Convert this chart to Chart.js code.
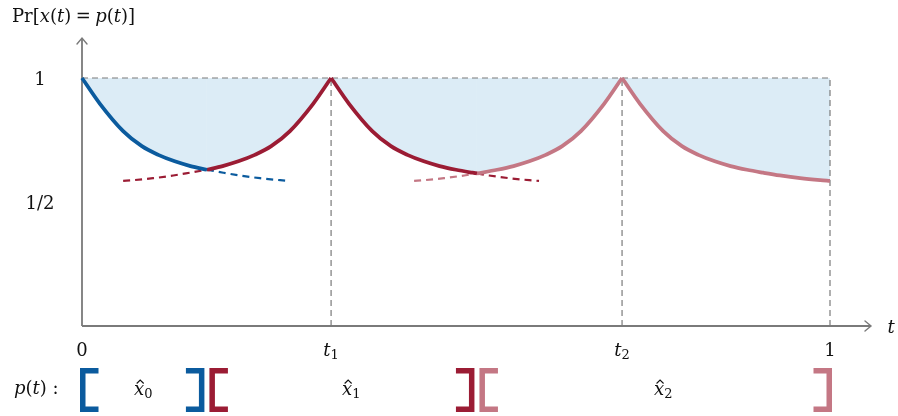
<!DOCTYPE html>
<html>
<head>
<meta charset="utf-8">
<script src="https://cdn.jsdelivr.net/npm/chart.js@4/dist/chart.umd.min.js"></script>
<style>
  html, body { margin: 0; padding: 0; background: #fff; }
  #wrap { width: 898px; height: 416px; }
</style>
</head>
<body>
<div id="wrap"><canvas id="prChart" width="898" height="416"></canvas></div>
<script>
// switch times and tick labels
const t1 = 0.333;
const t2 = 0.722;
const xTicks = [0, t1, t2, 1];
const xTickLabels = [["0"], ["t", "1"], ["t", "2"], ["1"]];
const yTicks = [1, 0.5];
const yTickLabels = ["1", "1/2"];

// estimate intervals shown under the axis, and where their names sit
const segStart = [0, 0.167, 0.528];
const segEnd = [0.167, 0.528, 1];
const segName = ["0", "1", "2"];
const segLabelAt = [0.082, 0.36, 0.777];

// probability curves, one piece per estimate
const blueSolidT = [0, 0.024, 0.055, 0.080, 0.102, 0.124, 0.145, 0.167];
const blueSolidY = [1, 0.896, 0.786, 0.725, 0.690, 0.664, 0.645, 0.630];
const blueDashT = [0.167, 0.189, 0.211, 0.238, 0.265, 0.278];
const blueDashY = [0.630, 0.618, 0.607, 0.596, 0.588, 0.585];

const redRiseDashT = [0.055, 0.068, 0.095, 0.122, 0.144, 0.167];
const redRiseDashY = [0.585, 0.588, 0.596, 0.607, 0.618, 0.630];
const redRiseT = [0.167, 0.188, 0.209, 0.231, 0.253, 0.278, 0.309, 0.333];
const redRiseY = [0.630, 0.645, 0.664, 0.690, 0.725, 0.786, 0.896, 1];
const redFallT = [0.333, 0.357, 0.388, 0.413, 0.435, 0.457, 0.478, 0.500, 0.522, 0.528];
const redFallY = [1, 0.896, 0.786, 0.725, 0.690, 0.664, 0.645, 0.630, 0.618, 0.615];
const redFallDashT = [0.528, 0.544, 0.571, 0.598, 0.611];
const redFallDashY = [0.615, 0.607, 0.596, 0.588, 0.585];

const pinkRiseDashT = [0.444, 0.457, 0.484, 0.511, 0.528];
const pinkRiseDashY = [0.585, 0.588, 0.596, 0.607, 0.615];
const pinkRiseT = [0.528, 0.555, 0.577, 0.598, 0.620, 0.642, 0.667, 0.698, 0.722];
const pinkRiseY = [0.615, 0.630, 0.645, 0.664, 0.690, 0.725, 0.786, 0.896, 1];
const pinkFallT = [0.722, 0.746, 0.777, 0.802, 0.824, 0.846, 0.867, 0.889, 0.911, 0.933, 0.960, 0.987, 1];
const pinkFallY = [1, 0.896, 0.786, 0.725, 0.690, 0.664, 0.645, 0.630, 0.618, 0.607, 0.596, 0.588, 0.585];

const BLUE = "#0b5b9e";
const RED = "#9b1c34";
const PINK = "#c47784";
const SHADE = "#dcecf6";
const GREY = "#7a7a7a";
const SERIF = '"DejaVu Serif", "Liberation Serif", serif';
const TEXT = 18;
const SUB = 13;
const segColor = [BLUE, RED, PINK];

function zip(ts, ys) {
  return ts.map((t, i) => ({ x: t, y: ys[i] }));
}

function solid(ts, ys, color) {
  return {
    data: zip(ts, ys),
    borderColor: color,
    borderWidth: 3.8,
    backgroundColor: SHADE,
    fill: { value: 1 },
    cubicInterpolationMode: "monotone",
    pointRadius: 0,
    clip: false,
  };
}

function dashed(ts, ys, color) {
  return {
    data: zip(ts, ys),
    borderColor: color,
    borderWidth: 2.2,
    borderDash: [7, 5],
    fill: false,
    cubicInterpolationMode: "monotone",
    pointRadius: 0,
    clip: false,
  };
}

function guide(ts, ys) {
  return {
    data: zip(ts, ys),
    borderColor: GREY,
    borderWidth: 1.2,
    borderDash: [6, 4],
    fill: false,
    pointRadius: 0,
    tension: 0,
    clip: false,
  };
}

function font(size, italic) {
  return (italic ? "italic " : "") + size + "px " + SERIF;
}

// draws a row of text pieces (upright, italic, subscript) as one label
function drawRuns(ctx, runs, x, y, align) {
  let w = 0;
  runs.forEach((r) => {
    ctx.font = font(r.size || TEXT, r.it);
    r.w = ctx.measureText(r.s).width + (r.gap || 0) * 2;
    w += r.w;
  });
  let cx = align === "center" ? x - w / 2 : align === "right" ? x - w : x;
  runs.forEach((r) => {
    ctx.font = font(r.size || TEXT, r.it);
    const tx = cx + (r.gap || 0);
    ctx.fillText(r.s, tx, y + (r.dy || 0));
    if (r.hat) {
      const mid = tx + r.w / 2 + 1;
      ctx.save();
      ctx.lineWidth = 1.1;
      ctx.beginPath();
      ctx.moveTo(mid - 3.5, y - 11.5);
      ctx.lineTo(mid, y - 15);
      ctx.lineTo(mid + 3.5, y - 11.5);
      ctx.stroke();
      ctx.restore();
    }
    cx += r.w;
  });
}

function bracket(ctx, left, right, top, bottom, open, color) {
  const lw = 5.5;
  const h = lw / 2;
  ctx.save();
  ctx.strokeStyle = color;
  ctx.lineWidth = lw;
  ctx.lineJoin = "miter";
  ctx.lineCap = "butt";
  ctx.beginPath();
  if (open) {
    ctx.moveTo(right, top + h);
    ctx.lineTo(left + h, top + h);
    ctx.lineTo(left + h, bottom - h);
    ctx.lineTo(right, bottom - h);
  } else {
    ctx.moveTo(left, top + h);
    ctx.lineTo(right - h, top + h);
    ctx.lineTo(right - h, bottom - h);
    ctx.lineTo(left, bottom - h);
  }
  ctx.stroke();
  ctx.restore();
}

const decorations = {
  id: "decorations",
  beforeDatasetsDraw(chart) {
    const ctx = chart.ctx;
    const xs = chart.scales.x;
    const ys = chart.scales.y;
    const x0 = xs.getPixelForValue(0);
    const y0 = ys.getPixelForValue(0);
    const top = chart.chartArea.top;
    const xEnd = 871;
    ctx.save();
    ctx.strokeStyle = GREY;
    ctx.lineWidth = 1.8;
    ctx.beginPath();
    ctx.moveTo(x0, y0);
    ctx.lineTo(x0, top);
    ctx.moveTo(x0, y0);
    ctx.lineTo(xEnd, y0);
    ctx.stroke();
    ctx.lineWidth = 1.4;
    ctx.lineCap = "round";
    ctx.beginPath();
    ctx.moveTo(x0 - 5, top + 6);
    ctx.lineTo(x0, top);
    ctx.lineTo(x0 + 5, top + 6);
    ctx.moveTo(xEnd - 6, y0 - 5);
    ctx.lineTo(xEnd, y0);
    ctx.lineTo(xEnd - 6, y0 + 5);
    ctx.stroke();
    ctx.restore();
  },
  afterDraw(chart) {
    const ctx = chart.ctx;
    const xs = chart.scales.x;
    const ys = chart.scales.y;
    ctx.save();
    ctx.fillStyle = "#111";
    ctx.strokeStyle = "#111";
    ctx.textBaseline = "alphabetic";

    drawRuns(ctx, [
      { s: "Pr" }, { s: "[" }, { s: "x", it: true }, { s: "(" }, { s: "t", it: true },
      { s: ")" }, { s: "=", gap: 4.5 }, { s: "p", it: true }, { s: "(" },
      { s: "t", it: true }, { s: ")" }, { s: "]" },
    ], 12, 22, "left");

    yTicks.forEach((v, i) => {
      drawRuns(ctx, [{ s: yTickLabels[i] }], 40, ys.getPixelForValue(v) + 7, "center");
    });

    xTicks.forEach((v, i) => {
      const lab = xTickLabels[i];
      const runs = lab.length === 1
        ? [{ s: lab[0] }]
        : [{ s: lab[0], it: true }, { s: lab[1], size: SUB, dy: 3 }];
      drawRuns(ctx, runs, xs.getPixelForValue(v), 356, "center");
    });

    drawRuns(ctx, [{ s: "t", it: true }], 891, 333, "center");

    drawRuns(ctx, [
      { s: "p", it: true }, { s: "(" }, { s: "t", it: true }, { s: ")" }, { s: " :" },
    ], 14, 394, "left");

    const bTop = 368;
    const bBot = 412;
    const bW = 18.5;
    segStart.forEach((a, i) => {
      const b = segEnd[i];
      const L = xs.getPixelForValue(a) + (a === 0 ? -2 : 2.5);
      const R = xs.getPixelForValue(b) + (b === 1 ? 2 : -2.5);
      bracket(ctx, L, L + bW, bTop, bBot, true, segColor[i]);
      bracket(ctx, R - bW, R, bTop, bBot, false, segColor[i]);
      drawRuns(ctx, [
        { s: "x", it: true, hat: true }, { s: segName[i], size: SUB, dy: 3 },
      ], xs.getPixelForValue(segLabelAt[i]), 395, "center");
    });
    ctx.restore();
  },
};

new Chart(document.getElementById("prChart"), {
  type: "line",
  data: {
    datasets: [
      solid(blueSolidT, blueSolidY, BLUE),
      solid(redRiseT, redRiseY, RED),
      solid(redFallT, redFallY, RED),
      solid(pinkRiseT, pinkRiseY, PINK),
      solid(pinkFallT, pinkFallY, PINK),
      dashed(blueDashT, blueDashY, BLUE),
      dashed(redRiseDashT, redRiseDashY, RED),
      dashed(redFallDashT, redFallDashY, RED),
      dashed(pinkRiseDashT, pinkRiseDashY, PINK),
      guide([0, 1], [1, 1]),
      guide([t1, t1], [0, 1]),
      guide([t2, t2], [0, 1]),
      guide([1, 1], [0, 1]),
    ],
  },
  options: {
    responsive: false,
    animation: false,
    layout: { padding: { left: 82, right: 68, top: 38, bottom: 90 } },
    scales: {
      x: { type: "linear", min: 0, max: 1, display: false },
      y: { type: "linear", min: 0, max: 288 / 248, display: false },
    },
    plugins: {
      legend: { display: false },
      tooltip: { enabled: false },
      filler: { drawTime: "beforeDatasetsDraw" },
    },
  },
  plugins: [decorations],
});
</script>
</body>
</html>
